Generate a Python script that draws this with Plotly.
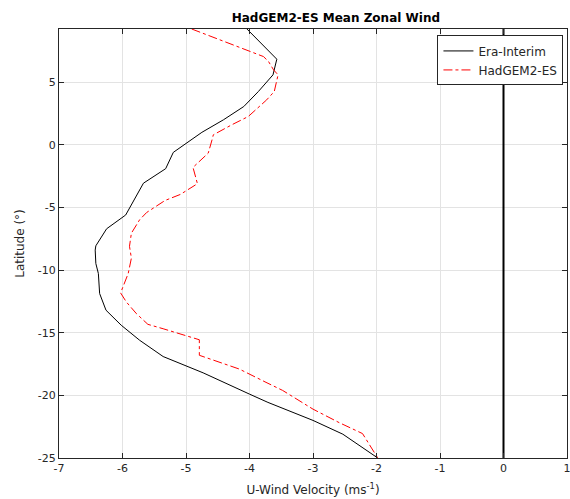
import plotly.graph_objects as go

# Era-Interim profile (U-wind, latitude)
era_u = [-4.04, -3.57, -3.63, -3.86, -4.09, -4.41, -4.75, -5.04, -5.20, -5.32, -5.67, -5.95,
         -6.25, -6.42, -6.43, -6.42, -6.38, -6.36, -6.26, -6.02, -5.73, -5.36, -4.73, -4.00,
         -3.71, -3.00, -2.53, -1.98]
era_lat = [9.25, 6.84, 5.59, 4.26, 3.06, 2.00, 1.00, 0.00, -0.60, -1.90, -3.06, -5.60,
           -6.70, -8.06, -8.40, -9.47, -10.27, -11.87, -13.20, -14.40, -15.60, -16.90, -18.20, -19.90,
           -20.56, -22.00, -23.10, -25.00]

# HadGEM2-ES profile
had_u = [-4.91, -3.78, -3.70, -3.62, -3.55, -3.61, -3.73, -4.02, -4.28, -4.57, -4.59, -4.65,
         -4.89, -4.82, -5.09, -5.33, -5.62, -5.73, -5.86, -5.89, -5.86, -5.91, -6.03, -5.94,
         -5.78, -5.60, -5.36, -4.79, -4.79, -4.63, -4.16, -3.74, -3.48, -3.00, -2.59, -2.22, -1.98]
had_lat = [9.25, 7.05, 6.65, 5.98, 5.59, 4.26, 3.59, 2.26, 1.60, 0.80, 0.40, -0.66,
           -1.80, -3.10, -3.96, -4.44, -5.40, -5.98, -7.05, -8.10, -9.04, -10.27, -11.82, -12.54,
           -13.48, -14.33, -14.68, -15.56, -16.80, -17.08, -17.90, -18.96, -19.60, -21.10, -22.17, -23.05, -25.00]

x_ticks = [-7, -6, -5, -4, -3, -2, -1, 0, 1]
y_ticks = [-25, -20, -15, -10, -5, 0, 5]
zero_line_x = [0, 0]
zero_line_y = [-25, 9.25]

fig = go.Figure()
fig.add_trace(go.Scatter(x=zero_line_x, y=zero_line_y, mode="lines",
                         line=dict(color="black", width=2), showlegend=False, hoverinfo="skip"))
fig.add_trace(go.Scatter(x=era_u, y=era_lat, mode="lines", name="Era-Interim",
                         line=dict(color="black", width=1)))
fig.add_trace(go.Scatter(x=had_u, y=had_lat, mode="lines", name="HadGEM2-ES",
                         line=dict(color="red", width=1, dash="dashdot")))

axis_common = dict(showgrid=True, gridcolor="#e3e3e3", gridwidth=1,
                   showline=True, linecolor="#262626", linewidth=1, mirror="ticks",
                   ticks="inside", ticklen=5, tickcolor="#262626", automargin=False,
                   ticklabeloverflow="allow",
                   zeroline=False, tickfont=dict(family="DejaVu Sans", size=11, color="#262626"))

fig.update_layout(
    width=570, height=499,
    margin=dict(l=59, r=3, t=29, b=41, autoexpand=False),
    paper_bgcolor="white", plot_bgcolor="white",
    title=dict(text="<b>HadGEM2-ES Mean Zonal Wind</b>", x=0.545, xanchor="center",
               xref="paper", yref="container",
               y=0.964, yanchor="middle",
               font=dict(family="DejaVu Sans", size=12, color="black")),
    xaxis=dict(range=[-7, 1], tickvals=x_ticks, ticktext=[str(v) for v in x_ticks],
               title=dict(text="U-Wind Velocity (ms<sup>-1</sup>)", standoff=11,
                          font=dict(family="DejaVu Sans", size=12, color="#262626")),
               **axis_common),
    yaxis=dict(range=[-25, 9.25], tickvals=y_ticks, ticktext=[str(v) for v in y_ticks],
               title=dict(text="Latitude (°)", standoff=10,
                          font=dict(family="DejaVu Sans", size=12, color="#262626")),
               **axis_common),
    legend=dict(x=0.993, y=0.985, xanchor="right", yanchor="top",
                bgcolor="white", bordercolor="#262626", borderwidth=1,
                font=dict(family="DejaVu Sans", size=12, color="#262626"),
                tracegroupgap=0, itemwidth=30),
)

fig.write_html("out.html", config={"displayModeBar": False},
               post_script="document.body.style.margin='0';document.body.style.overflow='hidden';")
